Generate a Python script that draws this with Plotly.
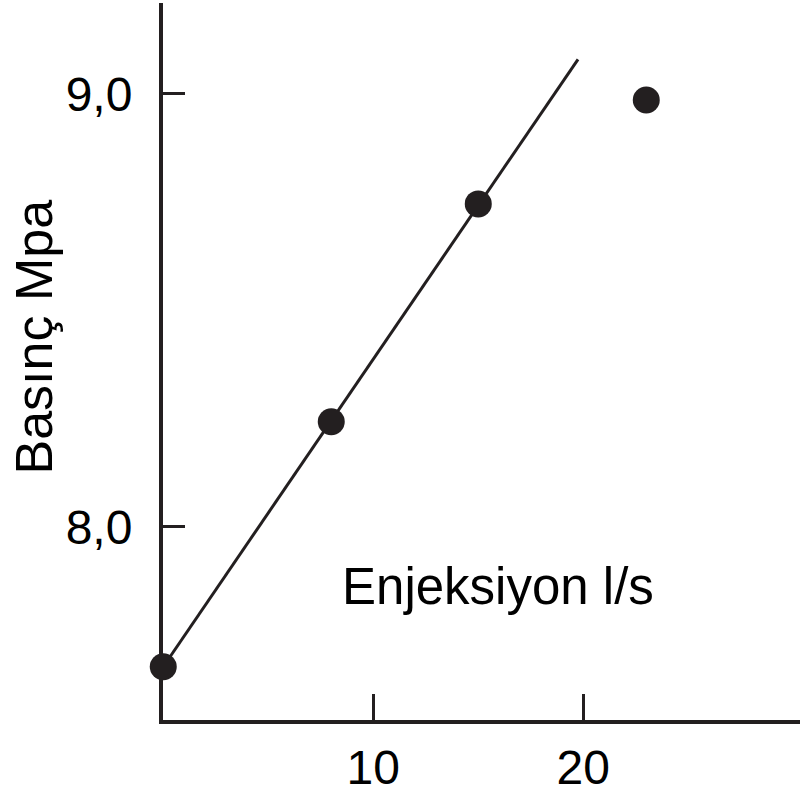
import plotly.graph_objects as go

# measured points (Enjeksiyon l/s vs Basınç MPa)
inj = [0, 8, 15, 23]
pressure = [7.677, 8.243, 8.746, 8.986]

# hand-drawn trend line through the first three points
fit_x = [0, 19.75]
fit_y = [7.677, 9.080]

x_ticks = [10, 20]
y_ticks = [8.0, 9.0]
y_tick_text = ["8,0", "9,0"]

_INK = "#231F20"
_FONT = "Liberation Sans, Arial, sans-serif"

fig = go.Figure()

fig.add_trace(
    go.Scatter(
        x=fit_x,
        y=fit_y,
        mode="lines",
        line={"color": _INK, "width": 3},
        hoverinfo="skip",
        showlegend=False,
    )
)
fig.add_trace(
    go.Scatter(
        x=inj,
        y=pressure,
        mode="markers",
        marker={"color": _INK, "size": 27, "line": {"width": 0}},
        cliponaxis=False,
        showlegend=False,
    )
)

fig.update_layout(
    width=800,
    height=796,
    paper_bgcolor="white",
    plot_bgcolor="white",
    font={"family": _FONT, "color": "black", "size": 48},
    margin={"l": 163, "r": 0, "t": 3, "b": 76},
    showlegend=False,
    xaxis={
        "range": [-0.012, 30.32],
        "showgrid": False,
        "zeroline": False,
        "showline": True,
        "linecolor": _INK,
        "linewidth": 4,
        "tickvals": x_ticks,
        "ticks": "inside",
        "ticklen": 26,
        "tickwidth": 3,
        "tickcolor": _INK,
        "tickfont": {"size": 48, "color": "black"},
        "ticklabelstandoff": 2,
    },
    yaxis={
        "range": [7.554, 9.210],
        "showgrid": False,
        "zeroline": False,
        "showline": True,
        "linecolor": _INK,
        "linewidth": 4,
        "tickvals": y_ticks,
        "ticktext": y_tick_text,
        "ticks": "inside",
        "ticklen": 22,
        "tickwidth": 3,
        "tickcolor": _INK,
        "tickfont": {"size": 48, "color": "black"},
        "ticklabelstandoff": 17,
    },
    annotations=[
        dict(
            text="Basınç Mpa",
            xref="paper",
            yref="y",
            x=-0.203,
            y=8.439,
            xanchor="center",
            yanchor="middle",
            textangle=-90,
            showarrow=False,
            font={"size": 52, "color": "black"},
        ),
        dict(
            text="Enjeksiyon l/s",
            xref="x",
            yref="y",
            x=15.95,
            y=7.862,
            xanchor="center",
            yanchor="middle",
            showarrow=False,
            font={"size": 51, "color": "black"},
        ),
    ],
)

# the page's default body margin would push the figure 8px down/right
fig.write_html(
    "out.html",
    config={"displayModeBar": False},
    post_script="document.body.style.margin='0';",
)
